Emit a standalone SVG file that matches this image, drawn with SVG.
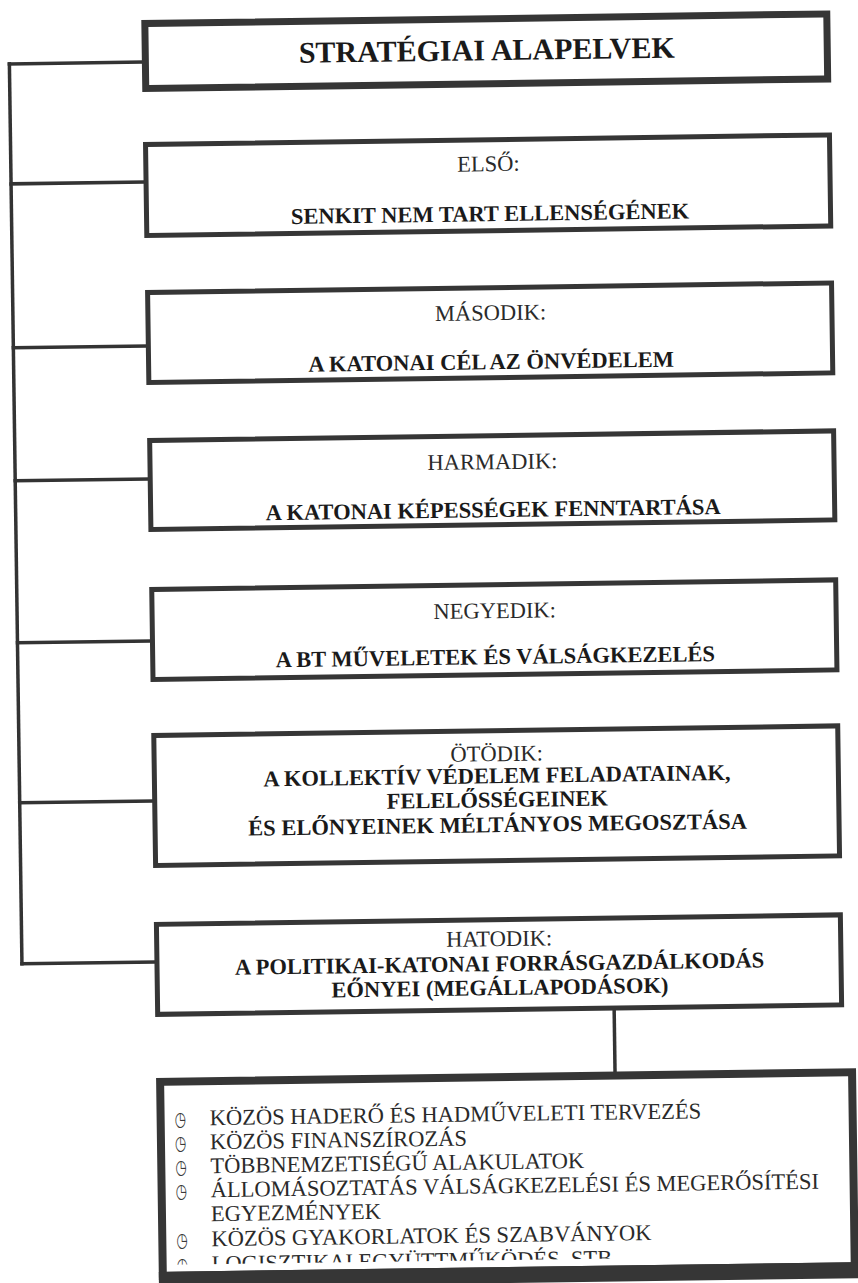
<svg xmlns="http://www.w3.org/2000/svg" width="858" height="1283" viewBox="0 0 858 1283">
  <defs>
    <style>
      .box { fill: #ffffff; stroke: #363636; stroke-width: 5; }
      .box-top { fill: #ffffff; stroke: #363636; stroke-width: 7; }
      .box-list { fill: #ffffff; stroke: #363636; stroke-width: 8; }
      .band { fill: #363636; }
      .conn { fill: none; stroke: #333333; stroke-width: 3.5; stroke-linecap: square; }
      .title { font-family: "Liberation Serif", "Times New Roman", serif; font-weight: bold; font-size: 30px; fill: #1a1a1a; text-anchor: middle; }
      .label { font-family: "Liberation Serif", "Times New Roman", serif; font-size: 22.5px; fill: #2a2a2a; text-anchor: middle; }
      .main { font-family: "Liberation Serif", "Times New Roman", serif; font-weight: bold; font-size: 22.5px; fill: #1a1a1a; text-anchor: middle; }
      .item { font-family: "Liberation Serif", "Times New Roman", serif; font-size: 22.5px; fill: #2a2a2a; }
      .bullet { font-family: "DejaVu Sans", sans-serif; font-size: 20px; fill: #3a3a3a; }
    </style>
    <clipPath id="listClip">
      <rect x="141" y="1080" width="710" height="187"/>
    </clipPath>
  </defs>
  <rect x="0" y="0" width="858" height="1283" fill="#ffffff"/>
  <g transform="rotate(-0.8)">
    <g id="connectors">
      <path class="conn" d="M8.5,64 V964"/>
      <path class="conn" d="M8.5,64 H141"/>
      <path class="conn" d="M8.5,184 H141"/>
      <path class="conn" d="M8.5,348 H141"/>
      <path class="conn" d="M8.5,481 H141"/>
      <path class="conn" d="M8.5,643 H141"/>
      <path class="conn" d="M8.5,803 H141"/>
      <path class="conn" d="M8.5,964 H141"/>
      <path class="conn" d="M600,1019 V1080"/>
    </g>
    <g id="node-title">
      <rect class="box-top" x="144.5" y="25.5" width="682" height="65"/>
      <text class="title" x="486" y="67">STRATÉGIAI ALAPELVEK</text>
    </g>
    <g id="node-1">
      <rect class="box" x="143.5" y="146.5" width="684" height="91"/>
      <text class="label" x="486" y="178">ELSŐ:</text>
      <text class="main" x="487" y="228">SENKIT NEM TART ELLENSÉGÉNEK</text>
    </g>
    <g id="node-2">
      <rect class="box" x="143.5" y="294.5" width="684" height="90"/>
      <text class="label" x="486" y="327">MÁSODIK:</text>
      <text class="main" x="486" y="376">A KATONAI CÉL AZ ÖNVÉDELEM</text>
    </g>
    <g id="node-3">
      <rect class="box" x="143.5" y="442.5" width="684" height="89"/>
      <text class="label" x="486" y="476">HARMADIK:</text>
      <text class="main" x="486" y="524">A KATONAI KÉPESSÉGEK FENNTARTÁSA</text>
    </g>
    <g id="node-4">
      <rect class="box" x="143.5" y="591.5" width="684" height="90"/>
      <text class="label" x="486" y="625">NEGYEDIK:</text>
      <text class="main" x="486" y="671">A BT MŰVELETEK ÉS VÁLSÁGKEZELÉS</text>
    </g>
    <g id="node-5">
      <rect class="box" x="143.5" y="737.5" width="684" height="130"/>
      <text class="label" x="486" y="768">ÖTÖDIK:</text>
      <text class="main" x="486" y="790">A KOLLEKTÍV VÉDELEM FELADATAINAK,</text>
      <text class="main" x="486" y="814">FELELŐSSÉGEINEK</text>
      <text class="main" x="486" y="839">ÉS ELŐNYEINEK MÉLTÁNYOS MEGOSZTÁSA</text>
    </g>
    <g id="node-6">
      <rect class="box" x="143.5" y="926.5" width="684" height="90"/>
      <text class="label" x="486" y="953">HATODIK:</text>
      <text class="main" x="486" y="978">A POLITIKAI-KATONAI FORRÁSGAZDÁLKODÁS</text>
      <text class="main" x="486" y="1002">EŐNYEI (MEGÁLLAPODÁSOK)</text>
    </g>
    <g id="node-list">
      <rect class="box-list" x="145" y="1084" width="692" height="194"/>
      <g clip-path="url(#listClip)">
        <text class="bullet" transform="translate(159,1128) scale(0.65,1)">◷</text>
        <text class="item" x="194" y="1128">KÖZÖS HADERŐ ÉS HADMŰVELETI TERVEZÉS</text>
        <text class="bullet" transform="translate(159,1152) scale(0.65,1)">◷</text>
        <text class="item" x="194" y="1152">KÖZÖS FINANSZÍROZÁS</text>
        <text class="bullet" transform="translate(159,1176) scale(0.65,1)">◷</text>
        <text class="item" x="194" y="1176">TÖBBNEMZETISÉGŰ ALAKULATOK</text>
        <text class="bullet" transform="translate(159,1200) scale(0.65,1)">◷</text>
        <text class="item" x="194" y="1200">ÁLLOMÁSOZTATÁS VÁLSÁGKEZELÉSI ÉS MEGERŐSÍTÉSI</text>
        <text class="item" x="194" y="1224">EGYEZMÉNYEK</text>
        <text class="bullet" transform="translate(159,1249) scale(0.65,1)">◷</text>
        <text class="item" x="194" y="1249">KÖZÖS GYAKORLATOK ÉS SZABVÁNYOK</text>
        <text class="bullet" transform="translate(159,1274) scale(0.65,1)">◷</text>
        <text class="item" x="194" y="1274">LOGISZTIKAI EGYÜTTMŰKÖDÉS, STB.</text>
      </g>
      <rect class="band" x="141" y="1274" width="700" height="16"/>
    </g>
  </g>
</svg>
